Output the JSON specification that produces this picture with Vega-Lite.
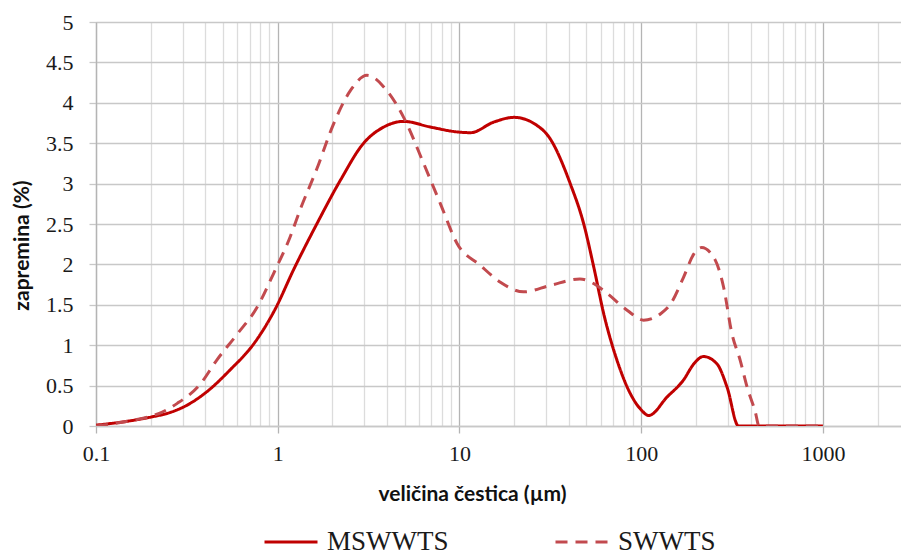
{
  "$schema": "https://vega.github.io/schema/vega-lite/v6.json",
  "width": 805,
  "height": 404,
  "autosize": {"type": "none"},
  "padding": {"left": 96, "top": 22, "right": 0, "bottom": 134},
  "background": "white",
  "config": {
    "view": {"stroke": null},
    "font": "Liberation Serif"
  },
  "data": {
    "values": [
      {"x": 0.1, "y": 0.01, "s": "MSWWTS"},
      {"x": 0.15, "y": 0.06, "s": "MSWWTS"},
      {"x": 0.2, "y": 0.11, "s": "MSWWTS"},
      {"x": 0.25, "y": 0.16, "s": "MSWWTS"},
      {"x": 0.3, "y": 0.23, "s": "MSWWTS"},
      {"x": 0.4, "y": 0.41, "s": "MSWWTS"},
      {"x": 0.55, "y": 0.7, "s": "MSWWTS"},
      {"x": 0.74, "y": 1.02, "s": "MSWWTS"},
      {"x": 0.97, "y": 1.45, "s": "MSWWTS"},
      {"x": 1.22, "y": 1.93, "s": "MSWWTS"},
      {"x": 1.64, "y": 2.5, "s": "MSWWTS"},
      {"x": 2.21, "y": 3.04, "s": "MSWWTS"},
      {"x": 2.97, "y": 3.5, "s": "MSWWTS"},
      {"x": 3.83, "y": 3.7, "s": "MSWWTS"},
      {"x": 4.93, "y": 3.77, "s": "MSWWTS"},
      {"x": 6.92, "y": 3.7, "s": "MSWWTS"},
      {"x": 9.7, "y": 3.64, "s": "MSWWTS"},
      {"x": 11.5, "y": 3.63, "s": "MSWWTS"},
      {"x": 15.4, "y": 3.76, "s": "MSWWTS"},
      {"x": 20, "y": 3.82, "s": "MSWWTS"},
      {"x": 26.7, "y": 3.72, "s": "MSWWTS"},
      {"x": 31, "y": 3.58, "s": "MSWWTS"},
      {"x": 40.7, "y": 3.0, "s": "MSWWTS"},
      {"x": 48.3, "y": 2.5, "s": "MSWWTS"},
      {"x": 54.8, "y": 1.97, "s": "MSWWTS"},
      {"x": 62.2, "y": 1.39, "s": "MSWWTS"},
      {"x": 73.7, "y": 0.81, "s": "MSWWTS"},
      {"x": 87.2, "y": 0.4, "s": "MSWWTS"},
      {"x": 100, "y": 0.2, "s": "MSWWTS"},
      {"x": 110, "y": 0.13, "s": "MSWWTS"},
      {"x": 139, "y": 0.36, "s": "MSWWTS"},
      {"x": 171, "y": 0.57, "s": "MSWWTS"},
      {"x": 195, "y": 0.77, "s": "MSWWTS"},
      {"x": 220, "y": 0.86, "s": "MSWWTS"},
      {"x": 261, "y": 0.77, "s": "MSWWTS"},
      {"x": 297, "y": 0.48, "s": "MSWWTS"},
      {"x": 343, "y": 0.0, "s": "MSWWTS"},
      {"x": 400, "y": 0.0, "s": "MSWWTS"},
      {"x": 1000, "y": 0.0, "s": "MSWWTS"},
      {"x": 0.1, "y": 0.0, "s": "SWWTS"},
      {"x": 0.15, "y": 0.06, "s": "SWWTS"},
      {"x": 0.2, "y": 0.12, "s": "SWWTS"},
      {"x": 0.23, "y": 0.17, "s": "SWWTS"},
      {"x": 0.28, "y": 0.28, "s": "SWWTS"},
      {"x": 0.375, "y": 0.52, "s": "SWWTS"},
      {"x": 0.46, "y": 0.81, "s": "SWWTS"},
      {"x": 0.6, "y": 1.14, "s": "SWWTS"},
      {"x": 0.77, "y": 1.47, "s": "SWWTS"},
      {"x": 0.95, "y": 1.89, "s": "SWWTS"},
      {"x": 1.17, "y": 2.34, "s": "SWWTS"},
      {"x": 1.33, "y": 2.68, "s": "SWWTS"},
      {"x": 1.64, "y": 3.18, "s": "SWWTS"},
      {"x": 2.03, "y": 3.74, "s": "SWWTS"},
      {"x": 2.51, "y": 4.15, "s": "SWWTS"},
      {"x": 3.1, "y": 4.34, "s": "SWWTS"},
      {"x": 3.99, "y": 4.15, "s": "SWWTS"},
      {"x": 4.93, "y": 3.82, "s": "SWWTS"},
      {"x": 6.35, "y": 3.25, "s": "SWWTS"},
      {"x": 7.86, "y": 2.75, "s": "SWWTS"},
      {"x": 9.7, "y": 2.26, "s": "SWWTS"},
      {"x": 13, "y": 1.99, "s": "SWWTS"},
      {"x": 16.8, "y": 1.78, "s": "SWWTS"},
      {"x": 22.5, "y": 1.66, "s": "SWWTS"},
      {"x": 31.6, "y": 1.74, "s": "SWWTS"},
      {"x": 46, "y": 1.82, "s": "SWWTS"},
      {"x": 55, "y": 1.76, "s": "SWWTS"},
      {"x": 65, "y": 1.64, "s": "SWWTS"},
      {"x": 84, "y": 1.43, "s": "SWWTS"},
      {"x": 103, "y": 1.31, "s": "SWWTS"},
      {"x": 128, "y": 1.39, "s": "SWWTS"},
      {"x": 145, "y": 1.51, "s": "SWWTS"},
      {"x": 171, "y": 1.84, "s": "SWWTS"},
      {"x": 195, "y": 2.13, "s": "SWWTS"},
      {"x": 215, "y": 2.21, "s": "SWWTS"},
      {"x": 256, "y": 2.05, "s": "SWWTS"},
      {"x": 284, "y": 1.72, "s": "SWWTS"},
      {"x": 316, "y": 1.14, "s": "SWWTS"},
      {"x": 351, "y": 0.81, "s": "SWWTS"},
      {"x": 383, "y": 0.48, "s": "SWWTS"},
      {"x": 425, "y": 0.17, "s": "SWWTS"},
      {"x": 445, "y": 0.0, "s": "SWWTS"},
      {"x": 1000, "y": 0.0, "s": "SWWTS"}
    ]
  },
  "mark": {"type": "line", "interpolate": "monotone", "strokeWidth": 3, "clip": true},
  "encoding": {
    "x": {
      "field": "x",
      "type": "quantitative",
      "scale": {"type": "log", "domain": [0.1, 2690], "nice": false},
      "axis": {
        "title": "veličina čestica  (µm)",
        "titleFont": "Lato",
        "titleFontWeight": "bold",
        "titleFontSize": 21,
        "titleColor": "#111111",
        "titleX": 376,
        "titleY": 68,
        "titleAlign": "center",
        "titleBaseline": "middle",
        "values": [0.1, 0.2, 0.3, 0.4, 0.5, 0.6, 0.7, 0.8, 0.9, 1, 2, 3, 4, 5, 6, 7, 8, 9, 10, 20, 30, 40, 50, 60, 70, 80, 90, 100, 200, 300, 400, 500, 600, 700, 800, 900, 1000, 2000],
        "format": "~g",
        "labelExpr": "(abs(log(datum.value)/LN10 - round(log(datum.value)/LN10)) < 0.001) ? datum.label : ''",
        "labelFont": "Liberation Serif",
        "labelFontSize": 22,
        "labelColor": "#1a1a1a",
        "labelPadding": 10,
        "labelFlush": false,
        "labelOverlap": false,
        "grid": true,
        "gridColor": {"condition": {"test": "abs(log(datum.value)/LN10 - round(log(datum.value)/LN10)) < 0.001", "value": "#b4b4b4"}, "value": "#dcdcdc"},
        "gridWidth": 1.3,
        "ticks": true,
        "tickSize": 7,
        "tickColor": "#b4b4b4",
        "tickWidth": 1.3,
        "tickOpacity": {"condition": {"test": "abs(log(datum.value)/LN10 - round(log(datum.value)/LN10)) < 0.001", "value": 1}, "value": 0},
        "domain": true,
        "domainColor": "#c8c8c8",
        "domainWidth": 1.3
      }
    },
    "y": {
      "field": "y",
      "type": "quantitative",
      "scale": {"domain": [0, 5], "nice": false},
      "axis": {
        "title": "zapremina (%)",
        "titleFont": "Lato",
        "titleFontWeight": "bold",
        "titleFontSize": 21,
        "titleColor": "#111111",
        "titleX": -74,
        "titleY": 223,
        "titleAlign": "center",
        "titleBaseline": "middle",
        "titleAngle": -90,
        "values": [0, 0.5, 1, 1.5, 2, 2.5, 3, 3.5, 4, 4.5, 5],
        "format": "~g",
        "labelFont": "Liberation Serif",
        "labelFontSize": 22,
        "labelColor": "#1a1a1a",
        "labelPadding": 16,
        "labelFlush": false,
        "labelOverlap": false,
        "grid": true,
        "gridColor": "#c8c8c8",
        "gridWidth": 1.3,
        "tickSize": 7,
        "tickColor": "#c8c8c8",
        "tickWidth": 1.3,
        "domain": true,
        "domainColor": "#b4b4b4",
        "domainWidth": 1.3
      }
    },
    "color": {
      "field": "s",
      "type": "nominal",
      "scale": {"domain": ["MSWWTS", "SWWTS"], "range": ["#c00000", "#c24a4e"]},
      "legend": {
        "title": null,
        "orient": "none",
        "legendX": 167,
        "legendY": 492,
        "direction": "horizontal",
        "symbolType": "stroke",
        "symbolSize": 2809,
        "symbolStrokeWidth": 3,
        "labelFont": "Liberation Serif",
        "labelFontSize": 27,
        "labelColor": "#1a1a1a",
        "labelOffset": 8,
        "columnPadding": 100,
        "labelLimit": 300
      }
    },
    "strokeDash": {
      "field": "s",
      "type": "nominal",
      "scale": {"domain": ["MSWWTS", "SWWTS"], "range": [[1, 0], [12, 8]]},
      "legend": {
        "title": null,
        "orient": "none",
        "legendX": 167,
        "legendY": 492,
        "direction": "horizontal",
        "symbolType": "stroke",
        "symbolSize": 2809,
        "symbolStrokeWidth": 3,
        "labelFont": "Liberation Serif",
        "labelFontSize": 27,
        "labelColor": "#1a1a1a",
        "labelOffset": 8,
        "columnPadding": 100,
        "labelLimit": 300
      }
    }
  }
}
